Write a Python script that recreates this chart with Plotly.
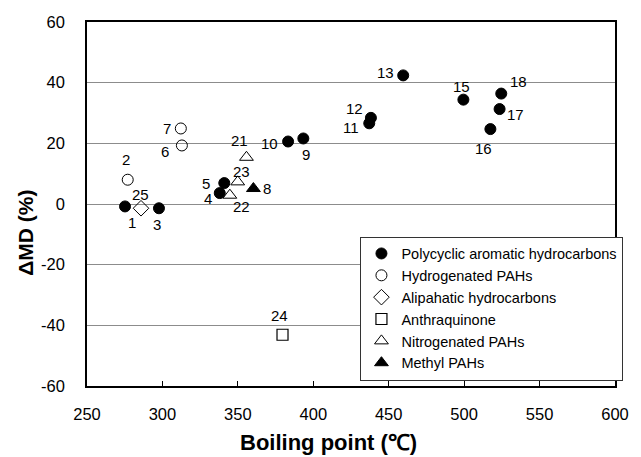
import plotly.graph_objects as go

# ---- data ----
groups = [
    "Polycyclic aromatic hydrocarbons",
    "Hydrogenated PAHs",
    "Alipahatic hydrocarbons",
    "Anthraquinone",
    "Nitrogenated PAHs",
    "Methyl PAHs",
]
pah_ids = [1, 3, 4, 5, 9, 10, 11, 12, 13, 15, 16, 17, 18]
pah_bp = [275.2, 297.7, 338.0, 341.0, 393.4, 383.3, 437.1, 438.2, 459.6, 499.5, 517.4, 523.5, 524.6]
pah_md = [-0.8, -1.4, 3.6, 6.9, 21.6, 20.6, 26.6, 28.4, 42.4, 34.4, 24.7, 31.3, 36.4]

hyd_ids = [2, 6, 7]
hyd_bp = [277.0, 312.9, 312.2]
hyd_md = [8.0, 19.3, 24.9]

ali_ids = [25]
ali_bp = [285.8]
ali_md = [-1.4]

anq_ids = [24]
anq_bp = [379.6]
anq_md = [-43.1]

nit_ids = [21, 22, 23]
nit_bp = [355.7, 344.7, 349.9]
nit_md = [15.4, 2.9, 7.3]

met_ids = [8]
met_bp = [360.3]
met_md = [5.1]

x_ticks = [250, 300, 350, 400, 450, 500, 550, 600]
y_ticks = [-60, -40, -20, 0, 20, 40, 60]

# ---- styles ----
FONT = "Arial, 'Liberation Sans', sans-serif"
styles = [
    dict(symbol="circle", size=11, color="black", line=dict(color="black", width=1)),
    dict(symbol="circle-open", size=11, color="black", line=dict(width=1)),
    dict(symbol="diamond-open", size=12, color="black", line=dict(width=1)),
    dict(symbol="square-open", size=11, color="black", line=dict(width=1.2)),
    dict(symbol="triangle-up-open", size=12, color="black", line=dict(width=1)),
    dict(symbol="triangle-up", size=12, color="black", line=dict(color="black", width=1)),
]
# label offsets in pixels (dx right, dy down)
label_offsets = {
    1: (7, 16), 2: (-2, -20), 3: (-2, 16), 4: (-12, 5), 5: (-18, 0),
    6: (-17, 6), 7: (-14, 0), 8: (14, 0), 9: (3, 16), 10: (-19, 2),
    11: (-18, 4), 12: (-16, -9), 13: (-18, -3), 15: (-2, -13), 16: (-7, 19),
    17: (16, 5), 18: (17, -12), 21: (-7, -17), 22: (12, 11), 23: (4, -10),
    24: (-3, -19), 25: (-1, -14),
}

series = [
    (pah_ids, pah_bp, pah_md),
    (hyd_ids, hyd_bp, hyd_md),
    (ali_ids, ali_bp, ali_md),
    (anq_ids, anq_bp, anq_md),
    (nit_ids, nit_bp, nit_md),
    (met_ids, met_bp, met_md),
]

fig = go.Figure()
annotations = []
for name, (ids, bp, md), st in zip(groups, series, styles):
    fig.add_trace(go.Scatter(
        x=bp, y=md, mode="markers", name=name,
        marker=dict(symbol=st["symbol"], size=st["size"], color=st["color"], line=st["line"]),
        cliponaxis=False,
    ))
    for i, xv, yv in zip(ids, bp, md):
        dx, dy = label_offsets[i]
        annotations.append(dict(
            x=xv, y=yv, xref="x", yref="y", text=str(i), showarrow=False,
            xshift=dx, yshift=-dy, font=dict(family=FONT, size=15, color="black"),
        ))

# axis titles as annotations (placed like the original)
annotations.append(dict(
    xref="paper", yref="paper", x=-0.118, y=0.42, text="<b>ΔMD (%)</b>",
    textangle=-90, showarrow=False, xanchor="center", yanchor="middle",
    font=dict(family=FONT, size=21, color="black"),
))
annotations.append(dict(
    xref="paper", yref="paper", x=0.457, y=-0.155, text="<b>Boiling point (℃)</b>",
    showarrow=False, xanchor="center", yanchor="middle",
    font=dict(family=FONT, size=22, color="black"),
))

fig.update_layout(
    width=641, height=457,
    margin=dict(l=87, r=15, t=22, b=71),
    paper_bgcolor="white", plot_bgcolor="white",
    font=dict(family=FONT, color="black"),
    showlegend=True,
    legend=dict(
        x=1.016, y=0.015, xanchor="right", yanchor="bottom",
        bgcolor="white", bordercolor="#333333", borderwidth=1,
        font=dict(family=FONT, size=14.5, color="black"),
        tracegroupgap=0, itemwidth=30,
    ),
    annotations=annotations,
    xaxis=dict(
        range=[250, 600], tickvals=x_ticks, ticktext=[str(v) for v in x_ticks],
        showgrid=False, zeroline=False,
        showline=True, linecolor="black", linewidth=1.5, mirror=True,
        ticks="inside", ticklen=5, tickcolor="black", tickwidth=1,
        tickfont=dict(family=FONT, size=16.5, color="black"),
        ticklabelstandoff=12,
    ),
    yaxis=dict(
        range=[-60, 60], tickvals=y_ticks, ticktext=[str(v) for v in y_ticks],
        showgrid=True, gridcolor="#8c8c8c", gridwidth=1, zeroline=False,
        showline=True, linecolor="black", linewidth=1.5, mirror=True,
        ticks="", tickfont=dict(family=FONT, size=16.5, color="black"),
        ticklabelstandoff=17,
    ),
)

fig.write_html("out.html")
